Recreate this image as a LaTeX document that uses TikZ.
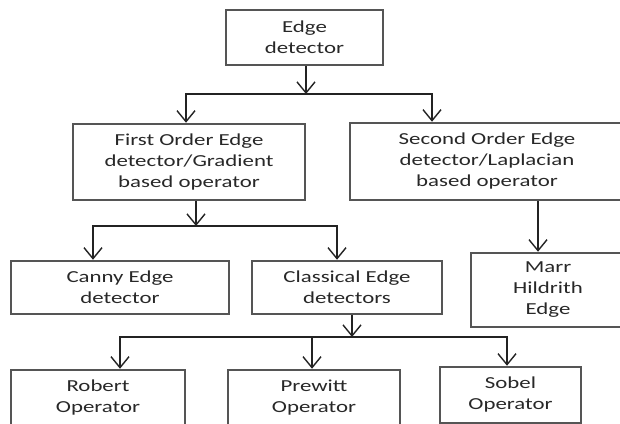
\documentclass[tikz,border=0pt]{standalone}
\usepackage{fontspec}
\setmainfont{Carlito}[FakeStretch=1.36]
\usetikzlibrary{arrows.meta}
\definecolor{boxline}{RGB}{85,85,85}
\definecolor{wire}{RGB}{35,35,35}
\definecolor{label}{RGB}{40,40,40}
\tikzset{
  block/.style={draw=boxline, line width=2.5pt, rectangle, inner sep=0pt,
    align=center, text=label, font=\fontsize{16.8}{21}\selectfont},
  wirestyle/.style={draw=wire, line width=1.4pt},
  arr/.style={wirestyle, -{Straight Barb[length=11pt,width=18pt,line width=1.4pt]}},
}
\begin{document}
\begin{tikzpicture}[x=1pt,y=-1pt]
\useasboundingbox (0,0) rectangle (620,423);
\clip (0,0) rectangle (620,423);
\fill[white] (0,0) rectangle (620,423);

% boxes
\node[block, minimum width=157pt, minimum height=55pt] (root) at (304.5,37.5) {Edge\\detector};
\node[block, minimum width=232pt, minimum height=76pt] (first) at (189,162) {First Order Edge\\detector/Gradient\\based operator};
\node[block, minimum width=274pt, minimum height=77pt] (second) at (487,161.5) {Second Order Edge\\detector/Laplacian\\based operator};
\node[block, minimum width=218pt, minimum height=53pt] (canny) at (120,287.5) {Canny Edge\\detector};
\node[block, minimum width=190pt, minimum height=53pt] (classical) at (347,287.5) {Classical Edge\\detectors};
\node[block, minimum width=154pt, minimum height=74pt] (marr) at (548,290) {Marr\\Hildrith\\Edge};
\node[block, minimum width=174pt, minimum height=55pt] (robert) at (98,397.5) {Robert\\Operator};
\node[block, minimum width=172pt, minimum height=55pt] (prewitt) at (314,397.5) {Prewitt\\Operator};
\node[block, minimum width=141pt, minimum height=56pt] (sobel) at (510.5,395) {Sobel\\Operator};

% junction points of the bus lines
\coordinate (b1l) at (186,94);
\coordinate (b1r) at (432,94);
\coordinate (b2l) at (93,226);
\coordinate (b2r) at (337,226);
\coordinate (b3l) at (120,337);
\coordinate (b3m) at (312,337);
\coordinate (b3r) at (507,337);

% root to first level
\draw[arr] ([xshift=1.5pt]root.south) -- ([xshift=1.5pt]root.south |- b1l);
\draw[arr] (b1r) -- (b1l) -- (b1l |- first.north);
\draw[arr] (b1l) -- (b1r) -- (b1r |- second.north);

% first order branch
\draw[arr] ([xshift=7pt]first.south) -- ([xshift=7pt]first.south |- b2l);
\draw[arr] (b2r) -- (b2l) -- (b2l |- canny.north);
\draw[arr] (b2l) -- (b2r) -- (b2r |- classical.north);

% second order branch
\draw[arr] ([xshift=-10pt]marr.north |- second.south) -- ([xshift=-10pt]marr.north);

% classical operators
\draw[arr] ([xshift=5pt]classical.south) -- ([xshift=5pt]classical.south |- b3l);
\draw[arr] (b3r) -- (b3l) -- (b3l |- robert.north);
\draw[arr] (b3m) -- (b3m |- prewitt.north);
\draw[arr] (b3l) -- (b3r) -- (b3r |- sobel.north);
\end{tikzpicture}
\end{document}
